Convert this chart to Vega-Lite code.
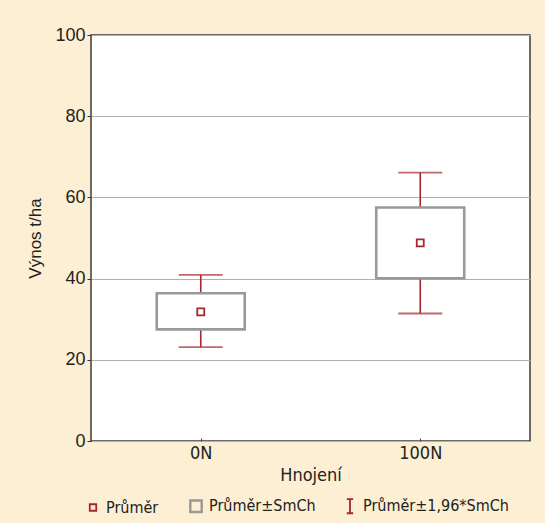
{
  "$schema": "https://vega.github.io/schema/vega-lite/v6.json",
  "width": 439,
  "height": 406,
  "autosize": {"type": "none"},
  "padding": {"left": 91, "top": 35, "right": 15, "bottom": 82},
  "background": "#fdefd3",
  "config": {
    "view": {"stroke": "#3c3c3c", "strokeWidth": 1.5, "fill": "white"},
    "font": "Liberation Sans"
  },
  "data": {
    "values": [
      {"Hnojeni": "0N", "mean": 31.8, "se_lo": 27.5, "se_hi": 36.4, "ci_lo": 23.1, "ci_hi": 40.9},
      {"Hnojeni": "100N", "mean": 48.8, "se_lo": 40.1, "se_hi": 57.5, "ci_lo": 31.4, "ci_hi": 66.1}
    ]
  },
  "encoding": {
    "x": {
      "field": "Hnojeni", "type": "nominal", "sort": null,
      "scale": {"type": "point", "padding": 0.5},
      "axis": {
        "title": "Hnojení", "labelAngle": 0, "domain": false,
        "labelFont": "DejaVu Sans Condensed, Liberation Sans Narrow, sans-serif", "labelFontSize": 18, "labelColor": "#222",
        "titleFont": "DejaVu Sans Condensed, Liberation Sans Narrow, sans-serif", "titleFontSize": 18, "titleFontWeight": "normal", "titleColor": "#222",
        "tickSize": -3, "tickColor": "#444", "labelPadding": 6, "titlePadding": 4
      }
    }
  },
  "layer": [
    {
      "mark": {"type": "rule", "strokeWidth": 1.6},
      "encoding": {
        "y": {
          "field": "ci_lo", "type": "quantitative",
          "scale": {"domain": [0, 100], "nice": false},
          "axis": {
            "title": "Výnos t/ha", "values": [0, 20, 40, 60, 80, 100], "domain": false,
            "grid": true, "gridColor": "#b0b0b0", "gridWidth": 1,
            "tickSize": 4, "tickColor": "#333", "labelPadding": 2,
            "labelFontSize": 18, "labelColor": "#222",
            "titleFontSize": 17, "titleFontWeight": "normal", "titleColor": "#222", "titlePadding": 10
          }
        },
        "y2": {"field": "ci_hi"},
        "stroke": {"datum": "Průměr±1,96*SmCh", "type": "nominal",
          "scale": {"domain": ["Průměr", "Průměr±SmCh", "Průměr±1,96*SmCh"], "range": ["#a8262e", "#999999", "#a8262e"]},
          "legend": {
            "title": null, "orient": "none", "direction": "horizontal",
            "legendX": -6, "legendY": 463,
            "labelFont": "DejaVu Sans Condensed, Liberation Sans Narrow, sans-serif", "labelFontSize": 16, "labelColor": "#222",
            "columnPadding": 26, "labelOffset": 5, "symbolStrokeWidth": 1.8,
            "encode": {
              "symbols": {
                "update": {
                  "shape": {"signal": "datum.index === 2 ? 'M-0.45,-1H0.45M0,-1V1M-0.45,1H0.45' : 'square'"},
                  "size": {"signal": "datum.index === 0 ? 42 : (datum.index === 1 ? 130 : 200)"},
                  "fill": {"value": "transparent"},
                  "strokeWidth": {"signal": "datum.index === 1 ? 2.4 : 1.8"}
                }
              }
            }
          }
        }
      }
    },
    {
      "mark": {"type": "tick", "orient": "horizontal", "size": 44, "thickness": 1.8, "color": "#a8262e"},
      "encoding": {"y": {"field": "ci_lo", "type": "quantitative"}}
    },
    {
      "mark": {"type": "tick", "orient": "horizontal", "size": 44, "thickness": 1.8, "color": "#a8262e"},
      "encoding": {"y": {"field": "ci_hi", "type": "quantitative"}}
    },
    {
      "mark": {"type": "bar", "width": 88, "fill": "white", "strokeWidth": 2.6},
      "encoding": {
        "y": {"field": "se_lo", "type": "quantitative"},
        "y2": {"field": "se_hi"},
        "stroke": {"datum": "Průměr±SmCh", "type": "nominal"}
      }
    },
    {
      "mark": {"type": "point", "shape": "square", "size": 49, "filled": false, "strokeWidth": 1.8, "opacity": 1},
      "encoding": {
        "y": {"field": "mean", "type": "quantitative"},
        "stroke": {"datum": "Průměr", "type": "nominal"}
      }
    }
  ]
}
